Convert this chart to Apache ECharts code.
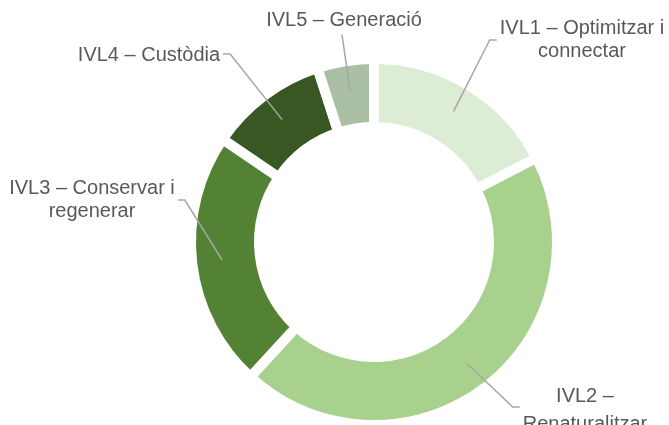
<!DOCTYPE html>
<html>
<head>
<meta charset="utf-8">
<script src="https://cdn.jsdelivr.net/npm/echarts@6/dist/echarts.min.js"></script>
<style>
  html, body { margin: 0; padding: 0; background: #ffffff; }
  #chart { width: 669px; height: 425px; }
</style>
</head>
<body>
<div id="chart"></div>
<script>
// Line categories (label text as drawn, with its line breaks)
const categories = [
  'IVL1 – Optimitzar i\nconnectar',
  'IVL2 –\nRenaturalitzar',
  'IVL3 – Conservar i\nregenerar',
  'IVL4 – Custòdia',
  'IVL5 – Generació'
];
// Share of each line (%)
const shares = [17.4, 44.4, 22.7, 10.5, 5.0];

const sliceColors = ['#dcecd5', '#a9d18e', '#548235', '#385723', '#aabfa3'];

// Label box centres, line spacing, and the side of the box the leader line joins
const labelCentres = [[582, 40], [585, 410], [92, 200], [149, 55], [344, 20]];
const labelLineHeights = [23, 28, 23, 23, 23];
const labelSides = ['left', 'left', 'right', 'right', 'bottom'];
const leaderDrop = [0, -3, 0, -1, 0];

const centre = [374, 242];

const ringData = categories.map((name, i) => ({
  name: name,
  value: shares[i],
  itemStyle: { color: sliceColors[i] }
}));

const chart = echarts.init(document.getElementById('chart'), null, { renderer: 'canvas' });

chart.setOption({
  backgroundColor: '#ffffff',
  animation: false,
  series: [
    {
      // the visible ring
      type: 'pie',
      z: 2,
      center: centre,
      radius: [115, 183],
      startAngle: 90,
      clockwise: true,
      silent: true,
      label: { show: false },
      labelLine: { show: false },
      itemStyle: { borderColor: '#ffffff', borderWidth: 10, borderJoin: 'miter' },
      emphasis: { disabled: true },
      data: ringData
    },
    {
      // invisible twin whose labels start their leaders at mid-ring
      type: 'pie',
      z: 5,
      center: centre,
      radius: [0, 153],
      startAngle: 90,
      clockwise: true,
      silent: true,
      avoidLabelOverlap: false,
      itemStyle: { color: 'rgba(0,0,0,0)' },
      emphasis: { disabled: true },
      label: {
        show: true,
        position: 'outside',
        fontFamily: 'Liberation Sans',
        fontSize: 20,
        lineHeight: 23,
        color: '#595959'
      },
      labelLine: {
        show: true,
        length: 20,
        length2: 10,
        lineStyle: { color: '#a6a6a6', width: 1.5 }
      },
      labelLayout: function (p) {
        const i = p.dataIndex;
        const x = labelCentres[i][0];
        const y = labelCentres[i][1];
        const ly = y + leaderDrop[i];
        const w = p.labelRect.width;
        const h = p.labelRect.height;
        const pts = p.labelLinePoints;
        const start = pts ? [pts[0][0], pts[0][1]] : [x, y];
        let line;
        if (labelSides[i] === 'left') {
          const ex = x - w / 2 - 3;
          line = [start, [ex - 7, ly], [ex, ly]];
        } else if (labelSides[i] === 'right') {
          const ex = x + w / 2 + 3;
          line = [start, [ex + 7, ly], [ex, ly]];
        } else {
          const ey = y + h / 2 + 3;
          line = [start, [x - 2, ey], [x - 2, ey]];
        }
        return {
          x: x,
          y: y,
          align: 'center',
          verticalAlign: 'middle',
          labelLinePoints: line
        };
      },
      data: ringData.map((d, i) => ({
        name: d.name,
        value: d.value,
        label: { lineHeight: labelLineHeights[i] }
      }))
    }
  ]
});
</script>
</body>
</html>
